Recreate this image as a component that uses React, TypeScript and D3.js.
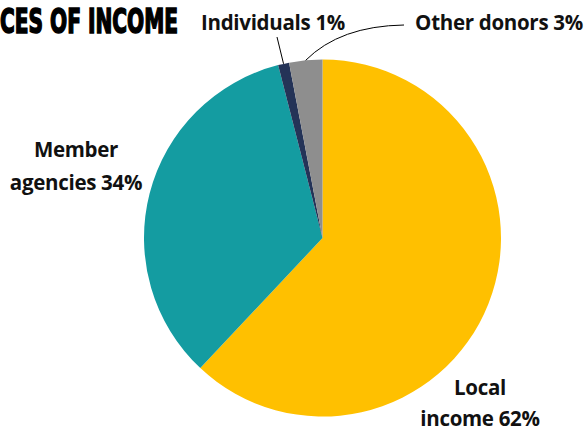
import React from "react";
import * as d3 from "d3";

const categories = ["Local income", "Member agencies", "Individuals", "Other donors"];
const values = [62, 34, 1, 3];
const colors = ["#FFC000", "#149CA1", "#243357", "#8E8E8E"];
const labelLines = [["Local", "income 62%"], ["Member", "agencies 34%"], ["Individuals 1%"], ["Other donors 3%"]];
const titleText = "CES OF INCOME";

const W = 587, H = 432;
const cx = 322.5, cy = 238, R = 178.5;
const labelPos = [
  { x: 480, y: 395, dy: 31 },
  { x: 76, y: 157, dy: 33 },
  { x: 273, y: 30, dy: 0 },
  { x: 499, y: 30, dy: 0 },
];

export default function App() {
  const pie = d3.pie<number>().sort(null).value((d) => d);
  const arcs = pie(values);
  const arc = d3.arc<d3.PieArcDatum<number>>().innerRadius(0).outerRadius(R);
  const edgePt = (a: d3.PieArcDatum<number>) => {
    const m = (a.startAngle + a.endAngle) / 2;
    return [cx + R * Math.sin(m), cy - R * Math.cos(m)];
  };
  const pInd = edgePt(arcs[2]);
  const pOth = edgePt(arcs[3]);
  const lineInd = d3.path();
  lineInd.moveTo(pInd[0], pInd[1]);
  lineInd.lineTo(277, 37);
  const lineOth = d3.path();
  lineOth.moveTo(pOth[0], pOth[1]);
  lineOth.quadraticCurveTo(340, 26, 404, 25);
  const font = "'Open Sans', sans-serif";
  return (
    <svg width={W} height={H} style={{ position: "absolute", left: 0, top: 0, background: "#fff" }}>
      <g transform="translate(0,33) scale(1,1.3)">
        <text x={0} y={0} fontFamily="'Liberation Sans Narrow', 'DejaVu Sans Condensed', sans-serif" fontWeight={700}
          fontSize={26} textLength={178} lengthAdjust="spacingAndGlyphs" stroke="#000" strokeWidth={1.2} fill="#000">
          {titleText}
        </text>
      </g>
      <g transform={`translate(${cx},${cy})`}>
        {arcs.map((a, i) => (
          <path key={categories[i]} d={arc(a) || ""} fill={colors[i]} />
        ))}
      </g>
      <path d={lineInd.toString()} stroke="#000" strokeWidth={1} fill="none" />
      <path d={lineOth.toString()} stroke="#000" strokeWidth={1} fill="none" />
      {labelLines.map((lines, i) => (
        <text key={i} x={labelPos[i].x} y={labelPos[i].y} textAnchor="middle" fontFamily={font}
          fontWeight={700} fontSize={20.5} letterSpacing={-0.3} fill="#111">
          {lines.map((l, j) => (
            <tspan key={j} x={labelPos[i].x} dy={j === 0 ? 0 : labelPos[i].dy}>{l}</tspan>
          ))}
        </text>
      ))}
    </svg>
  );
}
